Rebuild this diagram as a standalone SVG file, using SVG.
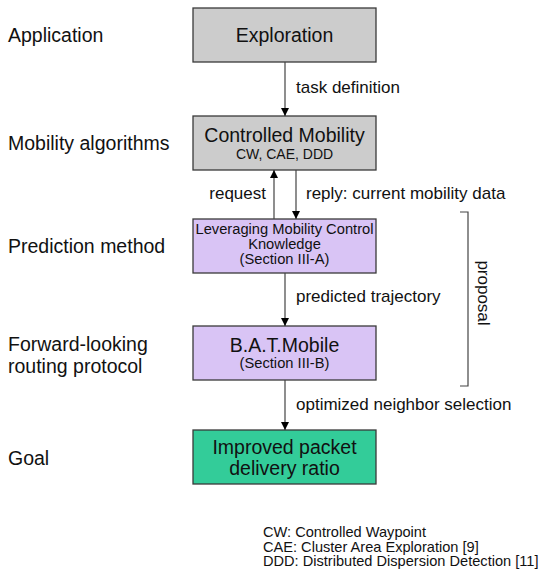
<svg xmlns="http://www.w3.org/2000/svg" width="543" height="573" viewBox="0 0 543 573">
<style>
text{font-family:"Liberation Sans",Arial,sans-serif;fill:#111}
.box{stroke:#3a3a3a;stroke-width:1.3}
.gray{fill:#cccccc}
.purple{fill:#d9c4f5}
.green{fill:#33cc99}
.big{font-size:19.5px}
.mid{font-size:14.7px}
.sm{font-size:14px}
.leg{font-size:14.6px}
.lbl{font-size:17px}
.c{text-anchor:middle}
.edge{stroke:#444;stroke-width:1.2;fill:none}
</style>
<defs>
<marker id="ah" viewBox="0 0 10 10" refX="10" refY="5" markerWidth="8" markerHeight="8" markerUnits="userSpaceOnUse" orient="auto">
<path d="M0,0 L10,5 L0,10 z" fill="#000"/>
</marker>
</defs>
<g id="layers">
<text class="big" x="8" y="42">Application</text>
<text class="big" x="8" y="150">Mobility algorithms</text>
<text class="big" x="8" y="253">Prediction method</text>
<text class="big" x="8" y="351">Forward-looking</text>
<text class="big" x="8" y="373">routing protocol</text>
<text class="big" x="8" y="465">Goal</text>
</g>
<g id="exploration">
<rect class="box gray" x="193" y="8" width="183" height="54"/>
<text class="big c" x="284.5" y="42">Exploration</text>
</g>
<g id="controlled-mobility">
<rect class="box gray" x="193" y="116" width="183" height="54"/>
<text class="big c" x="284.5" y="142">Controlled Mobility</text>
<text class="sm c" x="284.5" y="159">CW, CAE, DDD</text>
</g>
<g id="leveraging">
<rect class="box purple" x="193" y="219" width="183" height="54"/>
<text class="mid c" x="284.5" y="234">Leveraging Mobility Control</text>
<text class="mid c" x="284.5" y="249">Knowledge</text>
<text class="mid c" x="284.5" y="264">(Section III-A)</text>
</g>
<g id="batmobile">
<rect class="box purple" x="193" y="326" width="183" height="54"/>
<text class="big c" x="284.5" y="352">B.A.T.Mobile</text>
<text class="mid c" x="284.5" y="368">(Section III-B)</text>
</g>
<g id="goal">
<rect class="box green" x="193" y="430" width="183" height="54"/>
<text class="big c" x="284.5" y="454">Improved packet</text>
<text class="big c" x="284.5" y="475">delivery ratio</text>
</g>
<g id="connectors">
<line class="edge" x1="285" y1="62" x2="285" y2="116" marker-end="url(#ah)"/>
<text class="lbl" x="296" y="93">task definition</text>
<line class="edge" x1="274" y1="219" x2="274" y2="170" marker-end="url(#ah)"/>
<text class="lbl" x="266" y="199" text-anchor="end">request</text>
<line class="edge" x1="296" y1="170" x2="296" y2="219" marker-end="url(#ah)"/>
<text class="lbl" x="306" y="199">reply: current mobility data</text>
<line class="edge" x1="285" y1="273" x2="285" y2="326" marker-end="url(#ah)"/>
<text class="lbl" x="296" y="302">predicted trajectory</text>
<line class="edge" x1="285" y1="380" x2="285" y2="430" marker-end="url(#ah)"/>
<text class="lbl" x="296" y="410">optimized neighbor selection</text>
</g>
<g id="proposal">
<polyline class="edge" points="460,212 468,212 468,386 460,386"/>
<text class="lbl c" transform="translate(478,293) rotate(90)">proposal</text>
</g>
<g id="legend">
<text class="leg" x="263" y="537">CW: Controlled Waypoint</text>
<text class="leg" x="263" y="551.5">CAE: Cluster Area Exploration [9]</text>
<text class="leg" x="263" y="566">DDD: Distributed Dispersion Detection [11]</text>
</g>
</svg>
